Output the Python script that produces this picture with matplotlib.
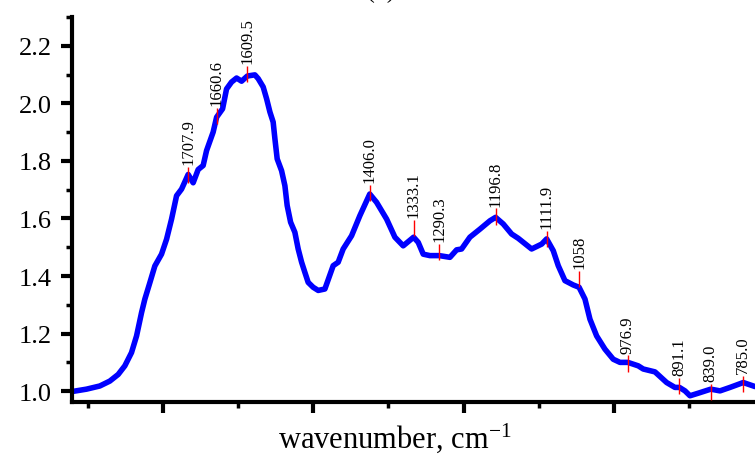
import matplotlib
matplotlib.use("Agg")
import matplotlib.pyplot as plt
import numpy as np

# ---- data ----
wavenumber = [1900.2, 1876.9, 1854.8, 1838.2, 1824.3, 1813.2, 1802.1, 1793.7,
              1785.4, 1779.9, 1771.6, 1763.3, 1752.2, 1743.8, 1735.5, 1727.2,
              1718.9, 1707.9, 1699.6, 1691.3, 1683.0, 1677.3, 1666.4, 1660.6,
              1650.7, 1644.1, 1635.8, 1627.4, 1619.1, 1609.5, 1597.0, 1591.5,
              1583.2, 1577.5, 1572.0, 1566.6, 1563.7, 1559.9, 1552.6, 1547.1,
              1543.3, 1537.6, 1530.5, 1525.0, 1519.3, 1513.9, 1508.4, 1500.1,
              1491.7, 1480.6, 1466.8, 1458.5, 1450.2, 1436.2, 1422.4, 1406.0,
              1394.6, 1378.0, 1364.2, 1350.4, 1333.1, 1325.4, 1317.1, 1306.0,
              1290.3, 1272.7, 1261.6, 1253.3, 1239.5, 1222.8, 1206.2, 1196.8,
              1184.1, 1170.1, 1159.1, 1136.9, 1120.2, 1111.9, 1100.9, 1092.6,
              1081.5, 1067.7, 1058.0, 1048.2, 1039.9, 1028.8, 1015.0, 1001.2,
              990.0, 976.9, 959.6, 951.3, 931.8, 912.4, 898.6, 891.1, 881.9,
              873.6, 859.8, 839.0, 823.7, 807.1, 785.0, 765.5]
absorbance = [0.999, 1.007, 1.018, 1.035, 1.058, 1.088, 1.134, 1.192,
              1.273, 1.320, 1.377, 1.435, 1.476, 1.528, 1.598, 1.679,
              1.702, 1.753, 1.724, 1.770, 1.784, 1.836, 1.900, 1.952,
              1.981, 2.050, 2.074, 2.088, 2.077, 2.095, 2.099, 2.086,
              2.057, 2.016, 1.970, 1.935, 1.877, 1.807, 1.766, 1.714,
              1.645, 1.587, 1.552, 1.494, 1.448, 1.413, 1.378, 1.361,
              1.350, 1.355, 1.436, 1.448, 1.494, 1.540, 1.610, 1.685,
              1.656, 1.598, 1.535, 1.505, 1.535, 1.517, 1.476, 1.471,
              1.471, 1.465, 1.491, 1.494, 1.535, 1.563, 1.592, 1.604,
              1.581, 1.546, 1.531, 1.494, 1.511, 1.529, 1.488, 1.436,
              1.384, 1.369, 1.361, 1.320, 1.250, 1.192, 1.146, 1.111,
              1.100, 1.100, 1.088, 1.077, 1.067, 1.030, 1.013, 1.013, 1.001,
              0.984, 0.993, 1.007, 1.001, 1.013, 1.030, 1.016]

peak_wn = [1707.9, 1660.6, 1609.5, 1406.0, 1333.1, 1290.3, 1196.8,
           1111.9, 1058.0, 976.9, 891.1, 839.0, 785.0]
peak_labels = ["1707.9", "1660.6", "1609.5", "1406.0", "1333.1", "1290.3",
               "1196.8", "1111.9", "1058", "976.9", "891.1", "839.0", "785.0"]
peak_mark_y = [1.751, 1.955, 2.103, 1.690, 1.567, 1.485, 1.607,
               1.530, 1.390, 1.096, 1.017, 0.998, 1.024]

yticks = [1.0, 1.2, 1.4, 1.6, 1.8, 2.0, 2.2]
ytick_labels = ["1.0", "1.2", "1.4", "1.6", "1.8", "2.0", "2.2"]
xticks_major = [1750, 1500, 1250, 1000]
xticks_minor = [1875, 1625, 1375, 1125, 875]

# ---- style ----
plt.rcParams['font.family'] = ['Liberation Serif', 'DejaVu Serif']
plt.rcParams['mathtext.fontset'] = 'custom'
plt.rcParams['mathtext.rm'] = 'Liberation Serif'
plt.rcParams['mathtext.it'] = 'Liberation Serif:italic'

fig = plt.figure(figsize=(7.55, 4.56), dpi=100)
ax = fig.add_axes([0.0954, 0.116, 0.9046, 0.8445])

ax.plot(wavenumber, absorbance, color='#0000ff', lw=4.0,
        solid_joinstyle='round', solid_capstyle='round', zorder=2)

half = 0.028
ax.vlines(peak_wn, np.array(peak_mark_y) - half, np.array(peak_mark_y) + half,
          color='red', lw=1.0, zorder=3)
for wn, lab, yy in zip(peak_wn, peak_labels, peak_mark_y):
    ax.annotate(lab, xy=(wn, yy + half), xytext=(0, 2),
                textcoords='offset points', rotation=90,
                ha='center', va='bottom', fontsize=12, color='black')

ax.set_xlim(1901, 765.5)
ax.set_ylim(0.962, 2.30)

ax.set_yticks(yticks)
ax.set_yticklabels(ytick_labels)
ax.set_yticks(np.arange(1.1, 2.31, 0.2), minor=True)
ax.set_xticks(xticks_major)
ax.set_xticklabels([])
ax.set_xticks(xticks_minor, minor=True)

for s in ['top', 'right']:
    ax.spines[s].set_visible(False)
for s in ['left', 'bottom']:
    ax.spines[s].set_linewidth(3.0)

ax.tick_params(which='major', direction='out', length=8, width=3,
               labelsize=19, pad=6.5)
ax.tick_params(which='minor', direction='out', length=4, width=2.5)

ax.set_xlabel("wavenumber, cm$^{-1}$", fontsize=22)
ax.xaxis.set_label_coords(0.473, -0.117, transform=ax.transAxes)
ax.xaxis.label.set_va('baseline')

fig.text(381 / 755, 1 - 3 / 456, "(b)", ha='center', va='bottom', fontsize=17)

fig.savefig("out.png", dpi=100)
